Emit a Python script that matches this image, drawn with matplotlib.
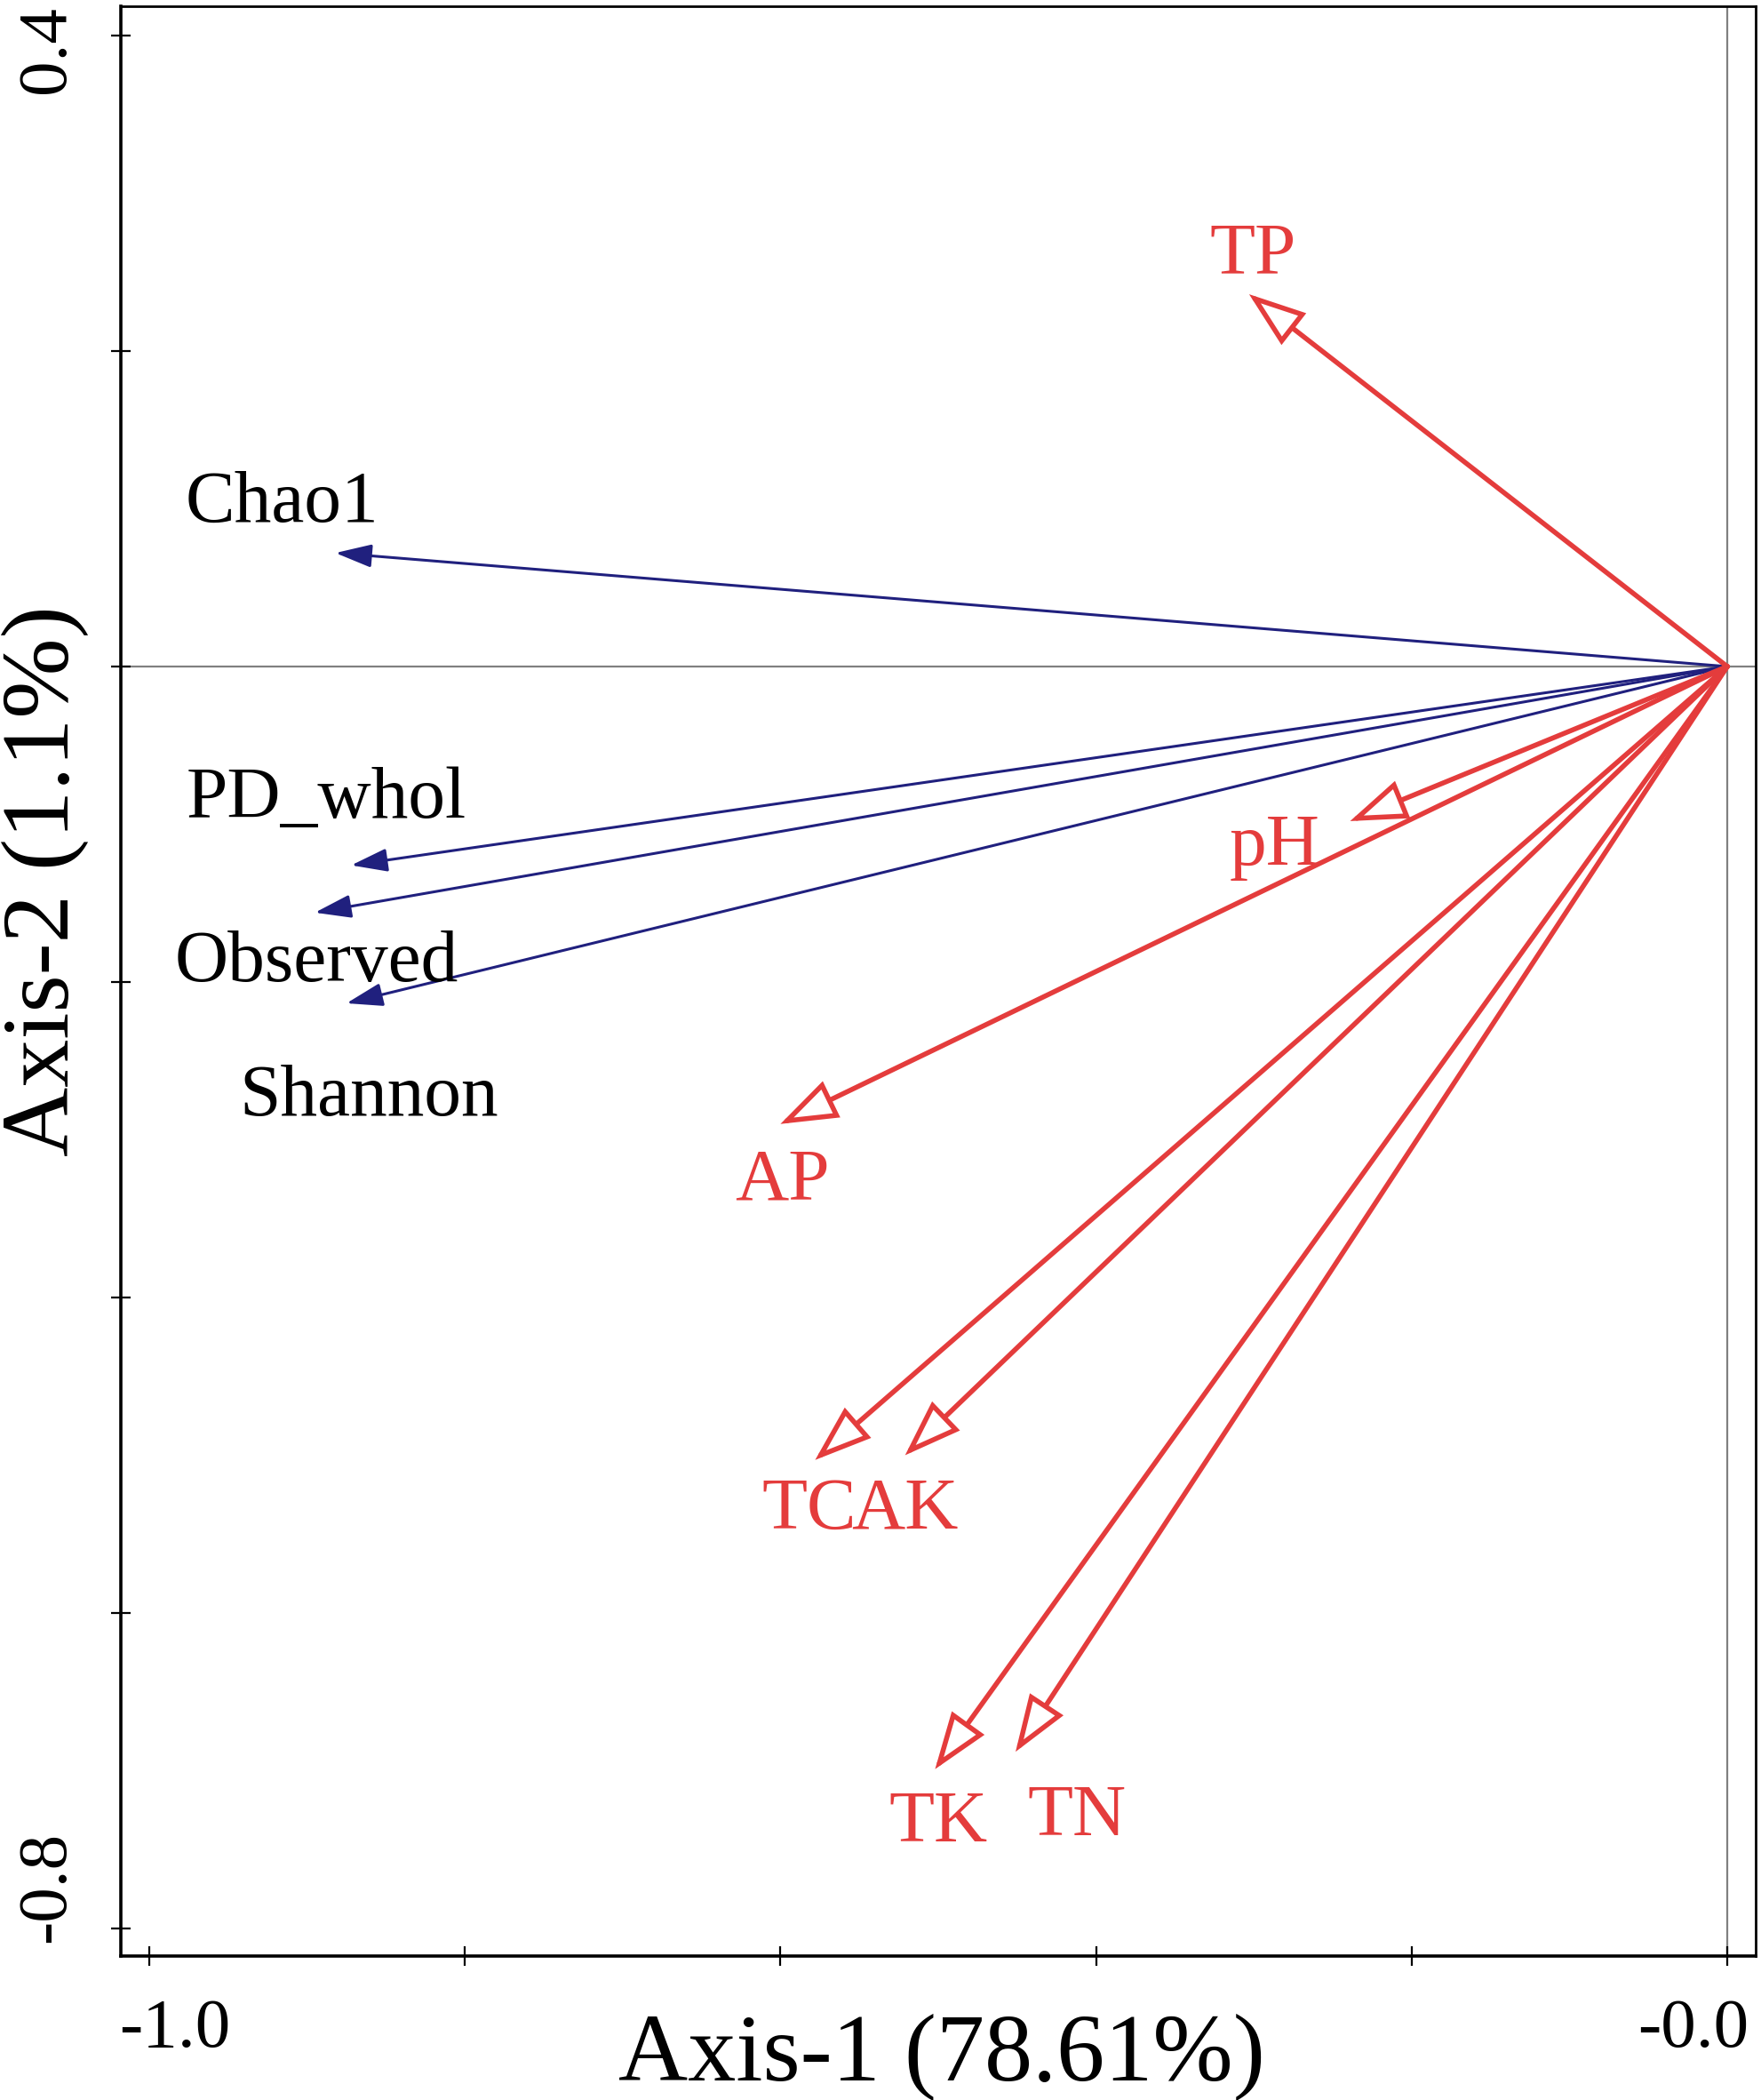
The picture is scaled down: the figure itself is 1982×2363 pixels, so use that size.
import matplotlib
matplotlib.use("Agg")
import matplotlib.pyplot as plt
from matplotlib.patches import FancyArrowPatch, ArrowStyle
from matplotlib.ticker import FixedLocator, FixedFormatter
from matplotlib.transforms import ScaledTranslation

plt.rcParams['font.family'] = ['Liberation Serif', 'DejaVu Serif']
plt.rcParams['axes.unicode_minus'] = False

# ---- data ----
div_names = ['Chao1', 'PD_whol', 'Observed', 'Shannon']
div_x = [-0.882, -0.872, -0.895, -0.875]
div_y = [0.072, -0.126, -0.156, -0.2135]

env_names = ['TP', 'pH', 'AP', 'TC', 'AK', 'TK', 'TN']
env_x = [-0.303, -0.239, -0.600, -0.578, -0.521, -0.502, -0.451]
env_y = [0.236, -0.098, -0.290, -0.503, -0.500, -0.699, -0.688]

x_ticks = [-1.0, -0.8, -0.6, -0.4, -0.2, 0.0]
x_ticklabels = ['-1.0', '', '', '', '', '-0.0']
y_ticks = [-0.8, -0.6, -0.4, -0.2, 0.0, 0.2, 0.4]
y_ticklabels = ['-0.8', '', '', '', '', '', '0.4']

x_title = 'Axis-1 (78.61%)'
y_title = 'Axis-2 (1.1%)'

# label anchor points (center x, baseline y) in data units
div_label_pos = [(-0.916, 0.092), (-0.888, -0.0958), (-0.894, -0.1994), (-0.861, -0.2845)]
env_label_pos = [(-0.3007, 0.2496), (-0.287, -0.1256), (-0.599, -0.3375),
                 (-0.582, -0.5465), (-0.521, -0.5465), (-0.500, -0.745), (-0.412, -0.741)]

RED = '#E43C3C'
NAVY = '#20207E'
GRAY = '#808080'

W, H = 1983, 2363
fig = plt.figure(figsize=(W / 100, H / 100), dpi=100)
ax = fig.add_axes([136 / W, (H - 2201) / H, (1976 - 136) / W, (2201 - 7) / H])
ax.set_xlim(-1.018, 0.018)
ax.set_ylim(-0.8175, 0.4186)

ax.axhline(0, color=GRAY, lw=1.6, zorder=1)
ax.axvline(0, color=GRAY, lw=1.6, zorder=1)

blue_style = ArrowStyle('-|>', head_length=25, head_width=8)
for x, y in zip(div_x, div_y):
    ax.add_patch(FancyArrowPatch((0, 0), (x, y), arrowstyle=blue_style,
                                 mutation_scale=1, shrinkA=0, shrinkB=0,
                                 facecolor=NAVY, edgecolor=NAVY, lw=2.2, zorder=3))
red_style = ArrowStyle('-|>', head_length=38, head_width=13.5)
for x, y in zip(env_x, env_y):
    ax.add_patch(FancyArrowPatch((0, 0), (x, y), arrowstyle=red_style,
                                 mutation_scale=1, shrinkA=0, shrinkB=0,
                                 facecolor='white', edgecolor=RED, lw=4.0,
                                 joinstyle='miter', zorder=4))

for name, (lx, ly) in zip(div_names, div_label_pos):
    ax.text(lx, ly, name, ha='center', va='baseline', fontsize=60, color='black', zorder=5)
for name, (lx, ly) in zip(env_names, env_label_pos):
    ax.text(lx, ly, name, ha='center', va='baseline', fontsize=60, color=RED, zorder=5)

# axes styling
for side, s in ax.spines.items():
    s.set_linewidth(2.6 if side in ('left', 'bottom') else 2.0)
    s.set_color('black')
ax.xaxis.set_major_locator(FixedLocator(x_ticks))
ax.xaxis.set_major_formatter(FixedFormatter(x_ticklabels))
ax.yaxis.set_major_locator(FixedLocator(y_ticks))
ax.yaxis.set_major_formatter(FixedFormatter(y_ticklabels))
ax.tick_params(axis='both', direction='inout', length=16, width=1.6, color='black',
               labelsize=57, pad=26, top=False, right=False)
ax.tick_params(axis='y', labelrotation=90)

ax.set_xlabel(x_title, fontsize=78)
ax.xaxis.set_label_coords(0.502, -0.0296)
ax.set_ylabel(y_title, fontsize=78)
ax.yaxis.set_label_coords(-0.0196, 0.5515)

fig.canvas.draw()
xl = ax.get_xticklabels()
xl[0].set_transform(xl[0].get_transform() + ScaledTranslation(0.29, 0, fig.dpi_scale_trans))
xl[-1].set_transform(xl[-1].get_transform() + ScaledTranslation(-0.38, 0, fig.dpi_scale_trans))
for t in ax.yaxis.get_major_ticks():
    t.label1.set_verticalalignment('center')
yl = ax.get_yticklabels()
yl[0].set_transform(yl[0].get_transform() + ScaledTranslation(0, 0.47, fig.dpi_scale_trans))
yl[-1].set_transform(yl[-1].get_transform() + ScaledTranslation(0, -0.16, fig.dpi_scale_trans))

fig.savefig('out.png', dpi=100)
